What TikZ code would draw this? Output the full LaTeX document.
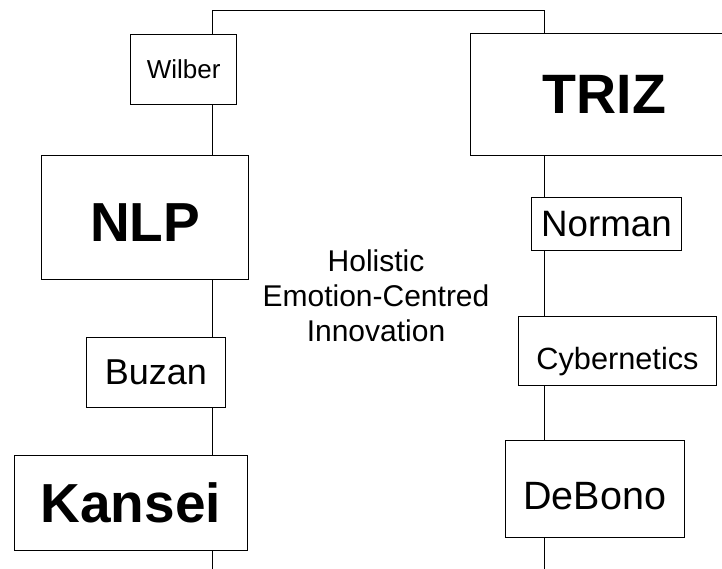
\documentclass[tikz,border=0pt]{standalone}
\usepackage{fontspec}
\setmainfont{Liberation Sans}
\usetikzlibrary{positioning,calc}

\begin{document}
\begin{tikzpicture}[x=1pt, y=-1pt,
  box/.style={draw, line width=0.9pt, inner sep=0pt, align=center},
  trunk/.style={line width=0.9pt}]
  \useasboundingbox (0,0) rectangle (722,569);
  \clip (0,0) rectangle (722,569);

  % Left column
  \node[box, minimum width=106pt, minimum height=70pt, font=\fontsize{26}{30}\selectfont] (wilber) at (183.7,69) {Wilber};
  \node[box, minimum width=206.6pt, minimum height=124pt, text height=48.8pt, text depth=0pt, font=\fontsize{55}{60}\selectfont\bfseries] (nlp) at (145,217) {NLP};
  \node[box, minimum width=138.3pt, minimum height=70pt, font=\fontsize{36}{40}\selectfont] (buzan) at (155.8,372.3) {Buzan};
  \node[box, minimum width=233.7pt, minimum height=95pt, font=\fontsize{55}{60}\selectfont\bfseries] (kansei) at (130.8,503.2) {Kansei};

  % Right column
  \node[box, minimum width=268pt, minimum height=121.6pt, font=\fontsize{55.5}{60}\selectfont\bfseries] (triz) at (604.3,94.5) {TRIZ};
  \node[box, minimum width=150.4pt, minimum height=52.3pt, font=\fontsize{36.7}{40}\selectfont] (norman) at (606.5,223.8) {Norman};
  \node[box, minimum width=198.4pt, minimum height=69pt, text height=37pt, text depth=0pt, font=\fontsize{30.7}{34}\selectfont] (cyber) at (617.5,350.5) {Cybernetics};
  \node[box, minimum width=179pt, minimum height=96.7pt, text height=40.4pt, text depth=0pt, font=\fontsize{39.5}{44}\selectfont] (debono) at (594.8,489) {DeBono};

  % Centre label
  \node[font=\fontsize{30}{35}\selectfont, align=center] (label) at (376,296) {Holistic\\Emotion-Centred\\Innovation};

  % Trunk lines
  \coordinate (topL) at (212.7,10.3);
  \coordinate (topR) at (544.3,10.3);
  \coordinate (botL) at (212.7,575);
  \coordinate (botR) at (544.3,575);
  \draw[trunk] (wilber.north -| topL) -- (topL) -- (topR) -- (triz.north -| topR);
  \foreach \a/\b in {wilber/nlp, nlp/buzan, buzan/kansei} {
    \draw[trunk] (\a.south -| topL) -- (\b.north -| topL);
  }
  \draw[trunk] (kansei.south -| topL) -- (botL);
  \foreach \a/\b in {triz/norman, norman/cyber, cyber/debono} {
    \draw[trunk] (\a.south -| topR) -- (\b.north -| topR);
  }
  \draw[trunk] (debono.south -| topR) -- (botR);
\end{tikzpicture}
\end{document}
